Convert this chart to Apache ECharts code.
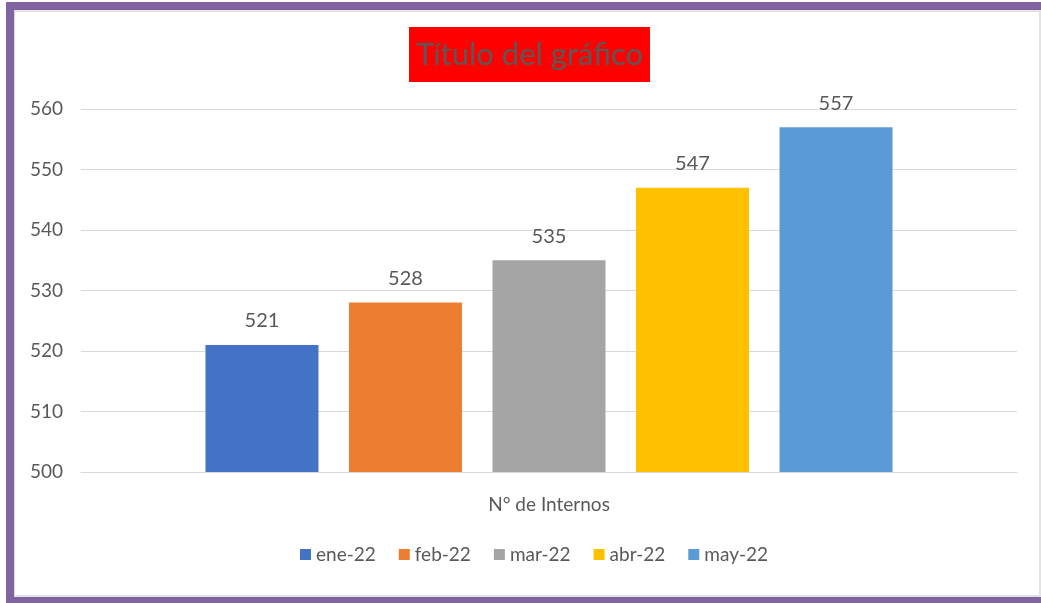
<!DOCTYPE html>
<html>
<head>
<meta charset="utf-8">
<script src="https://cdn.jsdelivr.net/npm/echarts@6/dist/echarts.min.js"></script>
<style>
  html, body { margin: 0; padding: 0; background: #fff; }
  #frame {
    position: absolute; left: 6px; top: 2px; width: 1035px; height: 601px;
    box-sizing: border-box;
    border-left: 8px solid #8064A2; border-top: 8px solid #8064A2; border-bottom: 6px solid #8064A2;
  }
  #inner {
    position: absolute; left: 0; top: 0; right: 0; bottom: 0;
    border-left: 1px solid #d9d9d9; border-top: 2px solid #e3e3e3; border-bottom: 2px solid #e3e3e3; border-right: 2px solid #e3e3e3;
  }
  #main { position: absolute; left: 0; top: 0; width: 1041px; height: 603px; }
</style>
</head>
<body>
<div id="frame"><div id="inner"></div></div>
<div id="main"></div>
<script>
  // datos
  var months = ["ene-22", "feb-22", "mar-22", "abr-22", "may-22"];
  var internos = [521, 528, 535, 547, 557];
  var colors = ["#4472C4", "#ED7D31", "#A5A5A5", "#FFC000", "#5B9BD5"];
  var category = ["N° de Internos"];

  var font = "Lato, 'Open Sans', sans-serif";
  var myChart = echarts.init(document.getElementById("main"));

  var series = months.map(function (m, i) {
    return {
      name: m,
      type: "bar",
      data: [internos[i]],
      barWidth: 113,
      barGap: "27%",
      itemStyle: { color: colors[i] },
      label: {
        show: true,
        position: "top",
        distance: 14,
        color: "#595959",
        fontSize: 20,
        fontFamily: font
      }
    };
  });

  myChart.setOption({
    animation: false,
    color: colors,
    title: {
      text: "Título del gráfico",
      left: 409,
      top: 27,
      backgroundColor: "#FF0000",
      padding: [12, 7, 12, 7],
      textStyle: { color: "#595959", fontSize: 31, fontWeight: "normal", fontFamily: font }
    },
    legend: {
      bottom: 34,
      left: 295,
      itemWidth: 11,
      itemHeight: 11,
      itemGap: 23,
      icon: "rect",
      textStyle: { color: "#595959", fontSize: 19, fontFamily: font }
    },
    grid: { left: 81, right: 24, top: 109, bottom: 131, containLabel: false },
    xAxis: {
      type: "category",
      data: category,
      axisTick: { show: false },
      axisLine: { lineStyle: { color: "#d9d9d9" } },
      axisLabel: { color: "#595959", fontSize: 19, fontFamily: font, margin: 23 }
    },
    yAxis: {
      type: "value",
      min: 500,
      max: 560,
      interval: 10,
      axisLine: { show: false },
      axisTick: { show: false },
      splitLine: { lineStyle: { color: "#d9d9d9" } },
      axisLabel: { color: "#595959", fontSize: 19, fontFamily: font, margin: 18 }
    },
    series: series
  });
</script>
</body>
</html>
